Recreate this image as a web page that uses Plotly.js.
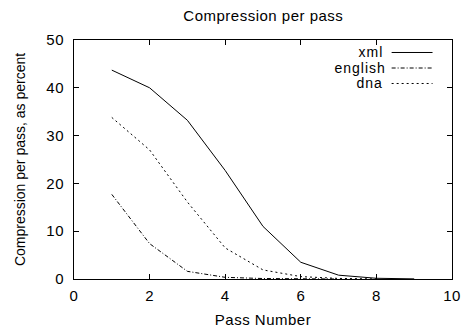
<!DOCTYPE html>
<html><head><meta charset="utf-8">
<script src="https://cdn.plot.ly/plotly-3.0.1.min.js"></script>
<style>
html,body{margin:0;padding:0;background:#fff}#c{width:462px;height:328px}
#c .main-svg text{letter-spacing:0.5px}
#c .main-svg .ytitle{letter-spacing:0}
#c .main-svg .annotation text{letter-spacing:1px}
</style>
</head><body><div id="c"></div>
<script>
const passes = [1, 2, 3, 4, 5, 6, 7, 8, 9];
const xml = [43.7, 40.0, 33.2, 22.7, 11.0, 3.5, 0.8, 0.15, 0.03];
const english = [17.7, 7.4, 1.6, 0.35, 0.1, 0.02, 0.0];
const dna = [33.8, 27.0, 16.1, 6.5, 1.9, 0.5, 0.12, 0.02];
const names = ["xml", "english", "dna"];
const dashes = ["solid", "4px,2px,1px,2px", "2px,3px"];
const series = [xml, english, dna];

const traces = series.map((ys, i) => ({
  x: passes.slice(0, ys.length), y: ys, name: names[i], mode: "lines",
  line: {color: "#000", width: 1, dash: dashes[i]}, showlegend: false
}));

const fam = "Liberation Sans, Arial, sans-serif";
const font = {family: fam, size: 15, color: "#000"};
const rowY = [0.9477, 0.8828, 0.8180];
const annotations = names.map((n, i) => ({
  xref: "paper", yref: "paper", x: 0.818, y: rowY[i],
  xanchor: "right", yanchor: "middle", text: n, showarrow: false, borderpad: 0,
  font: {family: fam, size: 14, color: "#000"}
}));
const shapes = names.map((n, i) => ({
  type: "line", xref: "paper", yref: "paper",
  x0: 0.8403, x1: 0.9485, y0: rowY[i], y1: rowY[i],
  line: {color: "#000", width: 1, dash: dashes[i]}
}));

const layout = {
  width: 462, height: 328,
  margin: {l: 73.5, r: 9.5, t: 40, b: 49},
  paper_bgcolor: "#fff", plot_bgcolor: "#fff",
  font: font,
  title: {text: "Compression per pass", font: font, x: 0.57, xanchor: "center", y: 0.952, yanchor: "middle"},
  xaxis: {
    range: [0, 10], dtick: 2, tick0: 0, ticks: "inside", ticklen: 5, tickcolor: "#000",
    showline: true, linecolor: "#000", linewidth: 1, mirror: "ticks", showgrid: false, zeroline: false,
    ticklabelstandoff: 3,
    title: {text: "Pass Number", font: font, standoff: 12}
  },
  yaxis: {
    range: [0, 50], dtick: 10, tick0: 0, ticks: "inside", ticklen: 5, tickcolor: "#000",
    showline: true, linecolor: "#000", linewidth: 1, mirror: "ticks", showgrid: false, zeroline: false,
    ticklabelstandoff: 6,
    title: {text: "Compression per pass, as percent", font: {family: fam, size: 14, color: "#000"}, standoff: 18}
  },
  annotations: annotations, shapes: shapes
};
Plotly.newPlot("c", traces, layout, {staticPlot: true});
</script></body></html>
